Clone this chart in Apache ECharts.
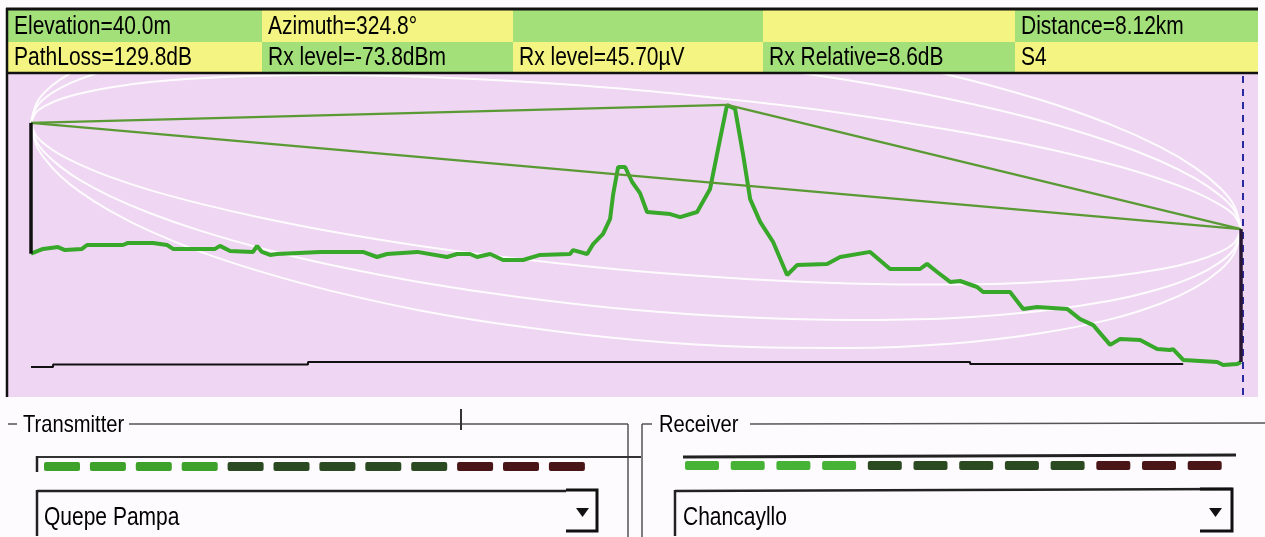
<!DOCTYPE html>
<html><head><meta charset="utf-8">
<script src="https://cdn.jsdelivr.net/npm/echarts@6/dist/echarts.min.js"></script>
<style>html,body{margin:0;padding:0;background:#fdfbfd}#c{width:1265px;height:537px}</style>
</head><body><div id="c"></div>
<script>
// ---------- DATA ----------
const headerRow1 = ['Elevation=40.0m', 'Azimuth=324.8°', '', '', 'Distance=8.12km'];
const headerRow2 = ['PathLoss=129.8dB', 'Rx level=-73.8dBm', 'Rx level=45.70µV', 'Rx Relative=8.6dB', 'S4'];
const txName = 'Quepe Pampa';
const rxName = 'Chancayllo';
const txLabel = 'Transmitter';
const rxLabel = 'Receiver';
const pathKm = 8.12;

// terrain profile [distance km, elevation m]
const terrain = [[0,47.1],[0.081,48.7],[0.181,49.3],[0.228,48.3],[0.342,48.7],[0.376,50.0],[0.617,50.0],[0.651,50.7],[0.819,50.7],[0.913,50.0],[0.953,48.7],[1.235,48.7],[1.268,49.7],[1.336,48.0],[1.490,47.7],[1.517,49.7],[1.550,47.7],[1.604,46.7],[1.651,47.0],[1.940,47.7],[2.228,47.7],[2.322,46.0],[2.389,47.0],[2.591,47.7],[2.792,46.0],[2.859,47.0],[2.946,47.0],[2.993,46.0],[3.081,47.0],[3.168,45.0],[3.302,45.0],[3.416,46.7],[3.617,47.0],[3.638,48.3],[3.732,47.0],[3.772,50.3],[3.839,53.7],[3.886,58.7],[3.906,66.7],[3.940,76.0],[3.987,76.0],[4.034,71.0],[4.087,67.3],[4.134,61.0],[4.289,60.3],[4.356,59.3],[4.470,61.0],[4.557,68.7],[4.624,85.3],[4.671,96.7],[4.725,95.3],[4.779,80.0],[4.826,65.3],[4.893,57.7],[4.980,51.0],[5.074,40.0],[5.141,43.3],[5.342,43.7],[5.430,46.0],[5.631,47.7],[5.765,42.0],[5.966,42.0],[6.013,43.7],[6.081,41.0],[6.168,37.7],[6.235,38.0],[6.349,36.0],[6.389,34.3],[6.570,34.3],[6.658,28.7],[6.752,29.3],[6.953,28.7],[7.040,25.3],[7.128,23.3],[7.242,16.7],[7.309,18.7],[7.443,18.3],[7.557,15.3],[7.644,15.0],[7.664,15.3],[7.732,11.7],[7.960,11.0],[8.000,10.0],[8.094,10.3],[8.12,11.0]];

// bottom reference line [km, m]
const baseLine = [[0,9.3],[0.148,9.3],[0.148,10.2],[1.859,10.2],[1.859,11.0],[6.302,11.0],[6.302,10.3],[7.732,10.3]];

// antennas [ground, top]
const txAntenna = [47.1, 90.7];
const rxAntenna = [11.0, 55.3];
const peak = [4.671, 96.7];

// Fresnel curves sampled at these distances
const fresnelKm = [0,0.034,0.094,0.195,0.329,0.530,0.799,1.134,1.537,2.007,2.611,3.282,4.060,4.826,5.497,6.168,6.772,7.242,7.577,7.812,7.980,8.074,8.12];
const fresnelLow1 = [90.7,86.5,83.5,80.1,76.8,72.7,68.3,63.8,59.2,54.6,49.7,45.3,41.3,38.6,37.2,36.8,37.7,39.5,41.9,44.6,47.7,50.7,55.3];
const fresnelLow2 = [90.7,84.8,80.7,76.2,71.6,66.3,60.6,54.8,49.0,43.4,37.6,32.6,28.3,25.8,25.0,25.6,28.0,31.4,35.4,39.6,44.3,48.7,55.3];
const fresnelLow3 = [90.7,83.5,78.6,73.1,67.7,61.4,54.6,47.8,41.2,34.8,28.2,22.8,18.3,16.0,15.7,17.1,20.6,25.2,30.4,35.8,41.7,47.2,55.3];
const fresnelUp1 = [90.7,94.2,96.4,98.6,100.5,102.5,104.3,105.6,106.4,106.7,106.1,104.5,101.7,97.8,93.6,88.3,82.6,77.0,72.0,67.6,63.4,59.9,55.3];
const fresnelUp2 = [90.7,95.7,99.0,102.3,105.3,108.5,111.4,113.9,115.8,117.0,117.3,116.3,113.7,109.6,104.8,98.6,91.5,84.4,78.0,72.2,66.5,61.7,55.3];
const fresnelUp3 = [90.7,96.9,101.0,105.1,108.9,113.1,117.0,120.4,123.1,125.1,126.0,125.5,123.0,118.8,113.5,106.6,98.4,90.2,82.7,75.8,69.0,63.1,55.3];

// signal meter segments (L = lit green, D = dark green, R = dark red)
const txMeter = ['L','L','L','L','D','D','D','D','D','R','R','R'];
const rxMeter = ['L','L','L','L','D','D','D','D','D','R','R','R'];

// ---------- CHART ----------
const F = "'Liberation Sans',Arial,sans-serif";
const SX = 0.84;
const chart = echarts.init(document.getElementById('c'), null, {renderer: 'canvas'});

function txt(text, x, y, size) {
  return {type:'text', z:10, x: x, y: y, scaleX: SX, scaleY: 1,
    style:{text: text, x:0, y:0, font: `${size}px ${F}`, fill:'#000', textVerticalAlign:'middle'}};
}

const g = [];
g.push({type:'rect', z:-5, shape:{x:0,y:0,width:1265,height:537}, style:{fill:'#fdfbfd'}});
g.push({type:'rect', z:-4, shape:{x:8,y:74,width:1250,height:323}, style:{fill:'#efd6f2'}});
// header cells
const colX = [8, 262, 513, 763, 1015, 1258];
const rowY = [10, 42, 72];
const rows = [headerRow1, headerRow2];
for (let r = 0; r < 2; r++) {
  for (let c = 0; c < 5; c++) {
    g.push({type:'rect', z:-3, shape:{x:colX[c], y:rowY[r], width:colX[c+1]-colX[c], height:rowY[r+1]-rowY[r]},
      style:{fill: (r + c) % 2 === 0 ? '#a3e07a' : '#f4f482'}});
    if (rows[r][c]) g.push(txt(rows[r][c], colX[c] + 6, (rowY[r] + rowY[r+1]) / 2 + 1, 25));
  }
}
// header frame
g.push({type:'line', z:5, shape:{x1:6,y1:9,x2:1258,y2:9}, style:{stroke:'#111', lineWidth:3}});
g.push({type:'line', z:5, shape:{x1:6,y1:73,x2:1258,y2:73}, style:{stroke:'#111', lineWidth:2.5}});
g.push({type:'line', z:5, shape:{x1:7,y1:8,x2:7,y2:397}, style:{stroke:'#111', lineWidth:2.5}});

// Transmitter group box
const boxStroke = '#555';
g.push({type:'line', shape:{x1:8,y1:424,x2:17,y2:424}, style:{stroke:boxStroke, lineWidth:1.5}});
g.push(txt(txLabel, 23, 425, 24));
g.push({type:'line', shape:{x1:129,y1:424,x2:628,y2:424}, style:{stroke:boxStroke, lineWidth:1.5}});
g.push({type:'line', shape:{x1:461,y1:409,x2:461,y2:430}, style:{stroke:'#333', lineWidth:2}});
g.push({type:'line', shape:{x1:628,y1:424,x2:628,y2:537}, style:{stroke:boxStroke, lineWidth:1.5}});
// Tx meter
g.push({type:'line', shape:{x1:37,y1:457,x2:641,y2:457}, style:{stroke:'#333', lineWidth:2}});
g.push({type:'line', shape:{x1:37,y1:456,x2:37,y2:472}, style:{stroke:'#222', lineWidth:2.5}});
const segFill = {L:'#3ea12a', D:'#2c4a22', R:'#4a1517'};
txMeter.forEach((k, i) => {
  g.push({type:'rect', shape:{x:44 + i * 45.9, y:462, width:36, height:9, r:2}, style:{fill: segFill[k]}});
});
// Tx combo
g.push({type:'line', shape:{x1:37,y1:491,x2:566,y2:491}, style:{stroke:'#222', lineWidth:2.5}});
g.push({type:'line', shape:{x1:37,y1:490,x2:37,y2:536}, style:{stroke:'#222', lineWidth:2.5}});
g.push({type:'polyline', shape:{points:[[566,490],[597,490],[597,531],[566,531]]}, style:{stroke:'#111', lineWidth:3, fill:null}});
g.push({type:'polygon', shape:{points:[[576,508],[589,508],[582.5,517]]}, style:{fill:'#111'}});
g.push(txt(txName, 44, 518, 25));

// Receiver group box
g.push({type:'line', shape:{x1:642,y1:424,x2:642,y2:537}, style:{stroke:boxStroke, lineWidth:1.5}});
g.push({type:'line', shape:{x1:642,y1:424,x2:652,y2:424}, style:{stroke:boxStroke, lineWidth:1.5}});
g.push(txt(rxLabel, 659, 425, 24));
g.push({type:'line', shape:{x1:750,y1:424,x2:1265,y2:423}, style:{stroke:boxStroke, lineWidth:1.5}});
// Rx meter
g.push({type:'line', shape:{x1:683,y1:457,x2:1236,y2:455}, style:{stroke:'#222', lineWidth:3}});
const rxFill = {L:'#46b336', D:'#2c4a22', R:'#4a1517'};
rxMeter.forEach((k, i) => {
  g.push({type:'rect', shape:{x:685 + i * 45.7, y:461, width:34, height:9, r:2}, style:{fill: rxFill[k]}});
});
// Rx combo
g.push({type:'line', shape:{x1:675,y1:491,x2:1232,y2:489}, style:{stroke:'#222', lineWidth:2.5}});
g.push({type:'line', shape:{x1:675,y1:490,x2:675,y2:536}, style:{stroke:'#222', lineWidth:2.5}});
g.push({type:'polyline', shape:{points:[[1200,489],[1232,489],[1232,531],[1200,531]]}, style:{stroke:'#111', lineWidth:3, fill:null}});
g.push({type:'polygon', shape:{points:[[1209,508],[1222,508],[1215.5,517]]}, style:{fill:'#111'}});
g.push(txt(rxName, 683, 518, 25));

const pairs = ys => fresnelKm.map((k, i) => [k, ys[i]]);
const fres = [fresnelLow1, fresnelLow2, fresnelLow3, fresnelUp1, fresnelUp2, fresnelUp3].map(ys => ({
  type:'line', data: pairs(ys), smooth: 0.35, symbol:'none', z:3, silent:true,
  lineStyle:{color:'#ffffff', width:2, opacity:0.9}
}));

const losColor = '#5a9a34';
chart.setOption({
  animation: false,
  graphic: {elements: g},
  grid: {left: 31, top: 74, width: 1213, height: 321, containLabel: false},
  xAxis: {type:'value', min:0, max:8.14, show:false, splitLine:{show:false}},
  yAxis: {type:'value', min:0, max:107, show:false, splitLine:{show:false}},
  series: [
    ...fres,
    {type:'line', data: baseLine, symbol:'none', z:4, lineStyle:{color:'#111', width:2}},
    {type:'line', data: terrain, symbol:'none', z:6, lineStyle:{color:'#38a82a', width:4}},
    {type:'line', data: [[0, txAntenna[1]], peak], symbol:'none', z:7, lineStyle:{color:losColor, width:2.2}},
    {type:'line', data: [peak, [pathKm, rxAntenna[1]]], symbol:'none', z:7, lineStyle:{color:losColor, width:2.2}},
    {type:'line', data: [[0, txAntenna[1]], [pathKm, rxAntenna[1]]], symbol:'none', z:7, lineStyle:{color:losColor, width:2.2}},
    {type:'line', data: [[0, txAntenna[0]], [0, txAntenna[1]]], symbol:'none', z:8, clip:false, lineStyle:{color:'#111', width:3.5}},
    {type:'line', data: [[pathKm, rxAntenna[0]], [pathKm, rxAntenna[1]]], symbol:'none', z:8, clip:false, lineStyle:{color:'#2a1535', width:3.5},
      markLine: {silent:true, symbol:'none', label:{show:false}, lineStyle:{color:'#2a2aa0', width:2, type:[7,6]}, data:[{xAxis: 8.135}]}}
  ]
});
</script></body></html>
